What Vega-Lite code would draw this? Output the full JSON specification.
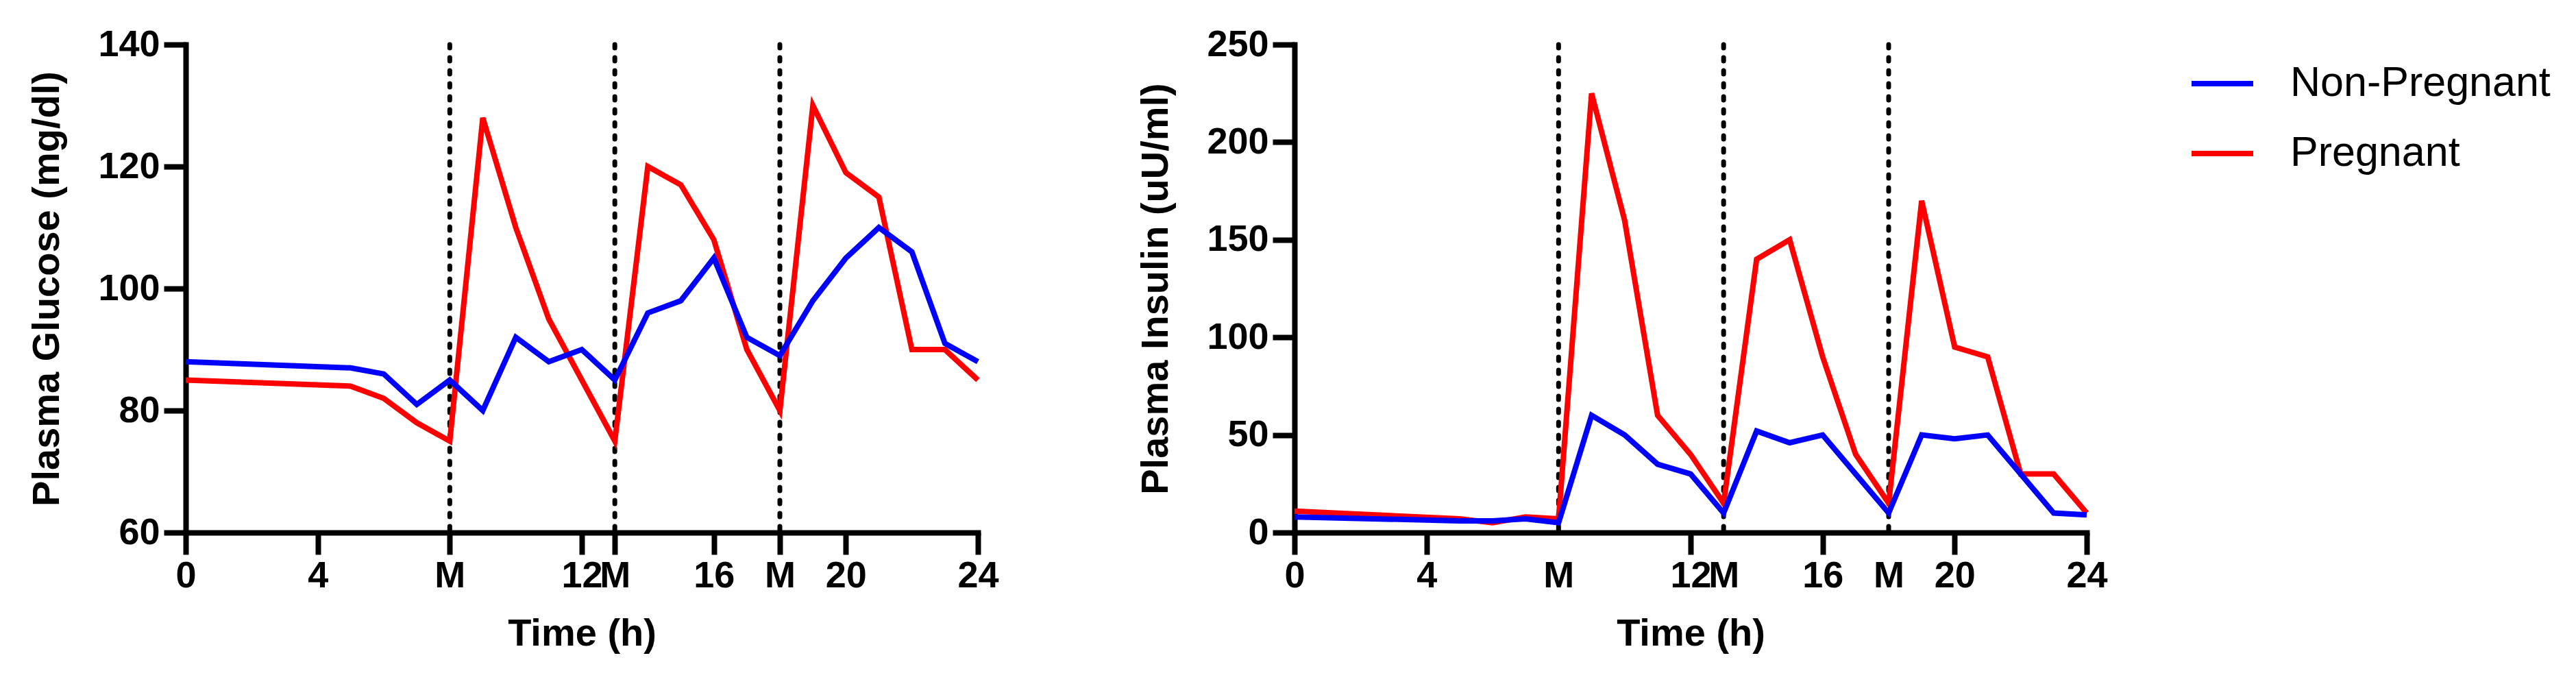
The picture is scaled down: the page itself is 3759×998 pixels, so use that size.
{
  "$schema": "https://vega.github.io/schema/vega-lite/v6.json",
  "background": "white",
  "padding": {"left": 40, "top": 38, "right": 5, "bottom": 5},
  "datasets": {
    "meals": [{"time": 8}, {"time": 13}, {"time": 18}],
    "glucose": [
      {"time": 0, "group": "Pregnant", "value": 85},
      {"time": 5, "group": "Pregnant", "value": 84},
      {"time": 6, "group": "Pregnant", "value": 82},
      {"time": 7, "group": "Pregnant", "value": 78},
      {"time": 8, "group": "Pregnant", "value": 75},
      {"time": 9, "group": "Pregnant", "value": 128},
      {"time": 10, "group": "Pregnant", "value": 110},
      {"time": 11, "group": "Pregnant", "value": 95},
      {"time": 12, "group": "Pregnant", "value": 85},
      {"time": 13, "group": "Pregnant", "value": 75},
      {"time": 14, "group": "Pregnant", "value": 120},
      {"time": 15, "group": "Pregnant", "value": 117},
      {"time": 16, "group": "Pregnant", "value": 108},
      {"time": 17, "group": "Pregnant", "value": 90},
      {"time": 18, "group": "Pregnant", "value": 80},
      {"time": 19, "group": "Pregnant", "value": 130},
      {"time": 20, "group": "Pregnant", "value": 119},
      {"time": 21, "group": "Pregnant", "value": 115},
      {"time": 22, "group": "Pregnant", "value": 90},
      {"time": 23, "group": "Pregnant", "value": 90},
      {"time": 24, "group": "Pregnant", "value": 85},
      {"time": 0, "group": "Non-Pregnant", "value": 88},
      {"time": 5, "group": "Non-Pregnant", "value": 87},
      {"time": 6, "group": "Non-Pregnant", "value": 86},
      {"time": 7, "group": "Non-Pregnant", "value": 81},
      {"time": 8, "group": "Non-Pregnant", "value": 85},
      {"time": 9, "group": "Non-Pregnant", "value": 80},
      {"time": 10, "group": "Non-Pregnant", "value": 92},
      {"time": 11, "group": "Non-Pregnant", "value": 88},
      {"time": 12, "group": "Non-Pregnant", "value": 90},
      {"time": 13, "group": "Non-Pregnant", "value": 85},
      {"time": 14, "group": "Non-Pregnant", "value": 96},
      {"time": 15, "group": "Non-Pregnant", "value": 98},
      {"time": 16, "group": "Non-Pregnant", "value": 105},
      {"time": 17, "group": "Non-Pregnant", "value": 92},
      {"time": 18, "group": "Non-Pregnant", "value": 89},
      {"time": 19, "group": "Non-Pregnant", "value": 98},
      {"time": 20, "group": "Non-Pregnant", "value": 105},
      {"time": 21, "group": "Non-Pregnant", "value": 110},
      {"time": 22, "group": "Non-Pregnant", "value": 106},
      {"time": 23, "group": "Non-Pregnant", "value": 91},
      {"time": 24, "group": "Non-Pregnant", "value": 88}
    ],
    "insulin": [
      {"time": 0, "group": "Pregnant", "value": 11},
      {"time": 5, "group": "Pregnant", "value": 7},
      {"time": 6, "group": "Pregnant", "value": 5},
      {"time": 7, "group": "Pregnant", "value": 8},
      {"time": 8, "group": "Pregnant", "value": 7},
      {"time": 9, "group": "Pregnant", "value": 225},
      {"time": 10, "group": "Pregnant", "value": 160},
      {"time": 11, "group": "Pregnant", "value": 60},
      {"time": 12, "group": "Pregnant", "value": 40},
      {"time": 13, "group": "Pregnant", "value": 15},
      {"time": 14, "group": "Pregnant", "value": 140},
      {"time": 15, "group": "Pregnant", "value": 150},
      {"time": 16, "group": "Pregnant", "value": 90},
      {"time": 17, "group": "Pregnant", "value": 40},
      {"time": 18, "group": "Pregnant", "value": 15},
      {"time": 19, "group": "Pregnant", "value": 170},
      {"time": 20, "group": "Pregnant", "value": 95},
      {"time": 21, "group": "Pregnant", "value": 90},
      {"time": 22, "group": "Pregnant", "value": 30},
      {"time": 23, "group": "Pregnant", "value": 30},
      {"time": 24, "group": "Pregnant", "value": 10},
      {"time": 0, "group": "Non-Pregnant", "value": 8},
      {"time": 5, "group": "Non-Pregnant", "value": 6},
      {"time": 6, "group": "Non-Pregnant", "value": 6},
      {"time": 7, "group": "Non-Pregnant", "value": 7},
      {"time": 8, "group": "Non-Pregnant", "value": 5},
      {"time": 9, "group": "Non-Pregnant", "value": 60},
      {"time": 10, "group": "Non-Pregnant", "value": 50},
      {"time": 11, "group": "Non-Pregnant", "value": 35},
      {"time": 12, "group": "Non-Pregnant", "value": 30},
      {"time": 13, "group": "Non-Pregnant", "value": 10},
      {"time": 14, "group": "Non-Pregnant", "value": 52},
      {"time": 15, "group": "Non-Pregnant", "value": 46},
      {"time": 16, "group": "Non-Pregnant", "value": 50},
      {"time": 17, "group": "Non-Pregnant", "value": 30},
      {"time": 18, "group": "Non-Pregnant", "value": 10},
      {"time": 19, "group": "Non-Pregnant", "value": 50},
      {"time": 20, "group": "Non-Pregnant", "value": 48},
      {"time": 21, "group": "Non-Pregnant", "value": 50},
      {"time": 22, "group": "Non-Pregnant", "value": 30},
      {"time": 23, "group": "Non-Pregnant", "value": 10},
      {"time": 24, "group": "Non-Pregnant", "value": 9}
    ]
  },
  "hconcat": [
    {
      "width": 1156,
      "height": 712,
      "encoding": {
        "x": {
          "field": "time", "type": "quantitative",
          "scale": {"domain": [0, 24], "nice": false},
          "title": "Time (h)",
          "axis": {
            "values": [0, 4, 8, 12, 13, 16, 18, 20, 24],
            "labelExpr": "indexof([8, 13, 18], datum.value) >= 0 ? 'M' : datum.label"
          }
        }
      },
      "layer": [
        {
          "data": {"name": "meals"},
          "mark": {"type": "rule", "color": "black", "strokeWidth": 7, "strokeDash": [5, 14], "strokeCap": "round"}
        },
        {
          "data": {"name": "glucose"},
          "mark": {"type": "line", "strokeWidth": 8},
          "encoding": {
            "y": {
              "field": "value", "type": "quantitative",
              "scale": {"domain": [60, 140], "nice": false, "zero": false},
              "title": "Plasma Glucose (mg/dl)",
              "axis": {"values": [60, 80, 100, 120, 140]}
            },
            "color": {
              "field": "group", "type": "nominal",
              "scale": {"domain": ["Non-Pregnant", "Pregnant"], "range": ["#0000ff", "#ff0000"]}
            }
          }
        }
      ]
    },
    {
      "width": 1156,
      "height": 712,
      "encoding": {
        "x": {
          "field": "time", "type": "quantitative",
          "scale": {"domain": [0, 24], "nice": false},
          "title": "Time (h)",
          "axis": {
            "values": [0, 4, 8, 12, 13, 16, 18, 20, 24],
            "labelExpr": "indexof([8, 13, 18], datum.value) >= 0 ? 'M' : datum.label",
            "tickOpacity": {"condition": {"test": "datum.value == 8 || datum.value == 13 || datum.value == 18", "value": 0}, "value": 1}
          }
        }
      },
      "layer": [
        {
          "data": {"name": "meals"},
          "mark": {"type": "rule", "color": "black", "strokeWidth": 7, "strokeDash": [5, 14], "strokeCap": "round"}
        },
        {
          "data": {"name": "insulin"},
          "mark": {"type": "line", "strokeWidth": 8},
          "encoding": {
            "y": {
              "field": "value", "type": "quantitative",
              "scale": {"domain": [0, 250], "nice": false},
              "title": "Plasma Insulin (uU/ml)",
              "axis": {"values": [0, 50, 100, 150, 200, 250]}
            },
            "color": {
              "field": "group", "type": "nominal",
              "scale": {"domain": ["Non-Pregnant", "Pregnant"], "range": ["#0000ff", "#ff0000"]}
            }
          }
        }
      ]
    }
  ],
  "config": {
    "view": {"stroke": null},
    "concat": {"spacing": 200},
    "axis": {
      "grid": false,
      "domainColor": "black",
      "domainWidth": 8,
      "domainCap": "square",
      "tickColor": "black",
      "tickWidth": 8,
      "tickSize": 32,
      "labelFont": "Liberation Sans",
      "labelFontWeight": "bold",
      "labelFontSize": 54,
      "labelColor": "black",
      "labelOverlap": false,
      "labelFlush": false,
      "titleFont": "Liberation Sans",
      "titleFontWeight": "bold",
      "titleFontSize": 56,
      "titleColor": "black"
    },
    "axisX": {"labelPadding": 4, "titlePadding": 30},
    "axisY": {"labelPadding": 6, "titlePadding": 45},
    "legend": {
      "orient": "right",
      "offset": 110,
      "padding": 8,
      "title": null,
      "labelFont": "Liberation Sans",
      "labelFontSize": 61,
      "labelColor": "black",
      "labelLimit": 0,
      "symbolType": "stroke",
      "symbolSize": 8100,
      "symbolStrokeWidth": 8,
      "labelOffset": 50,
      "rowPadding": 23
    }
  }
}
